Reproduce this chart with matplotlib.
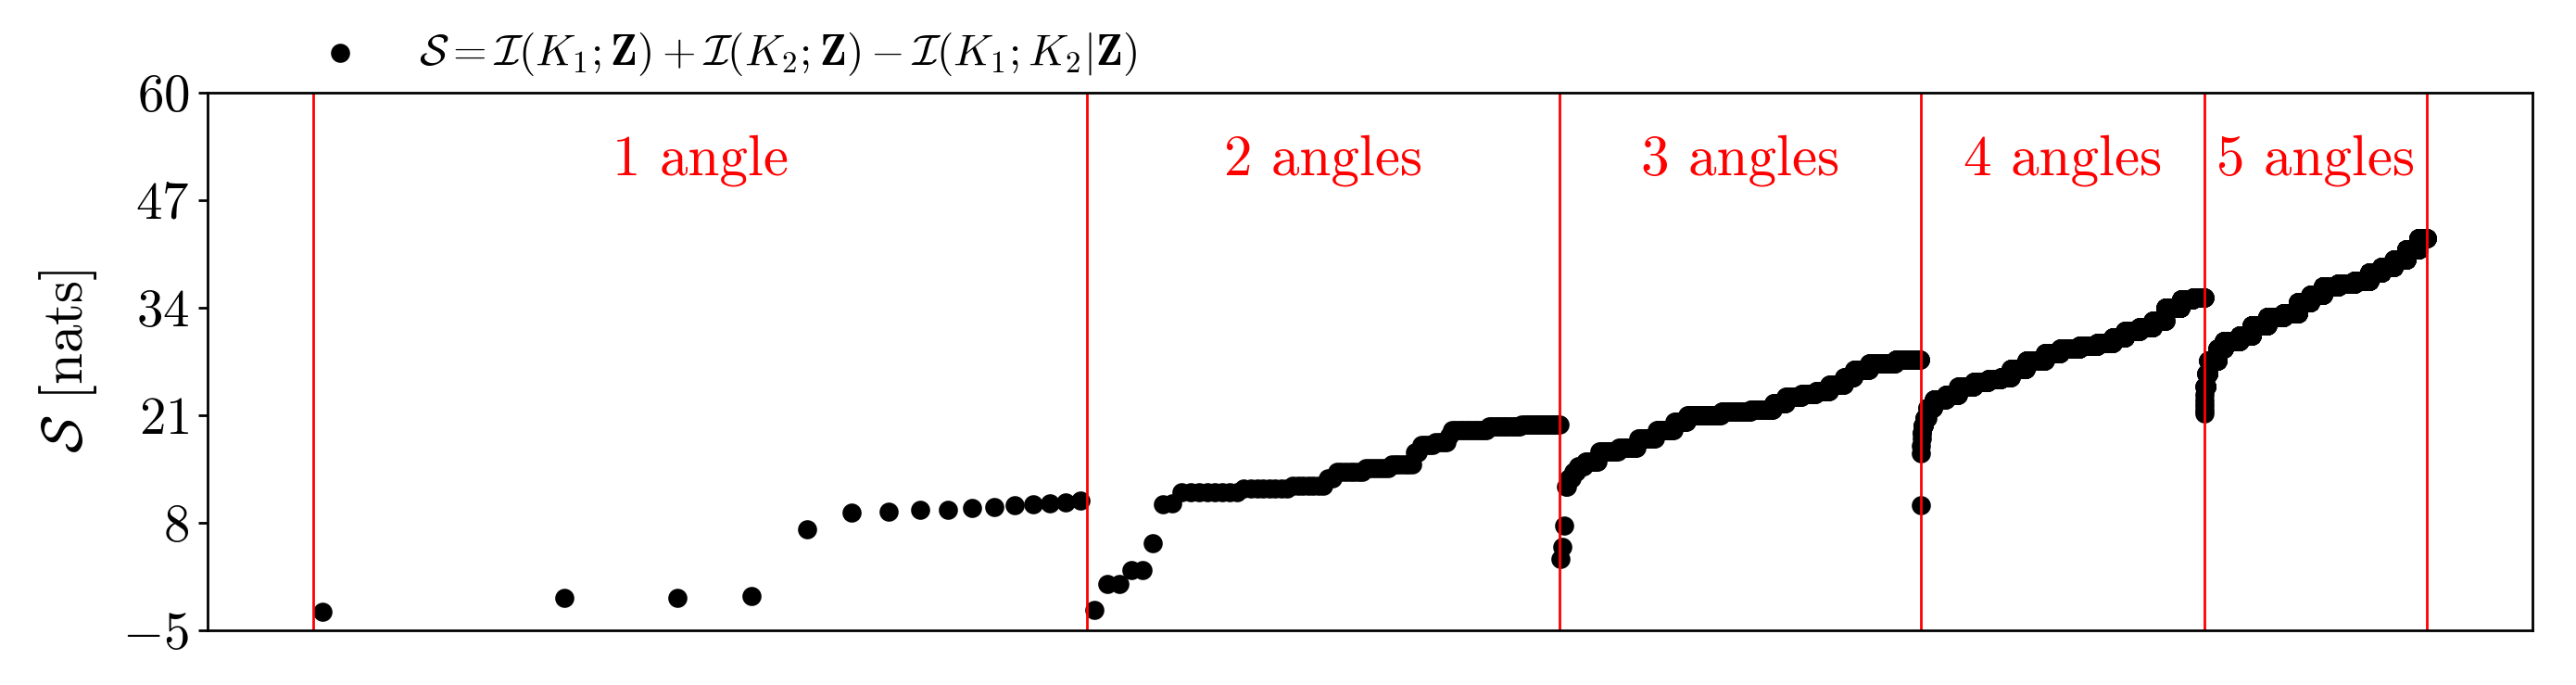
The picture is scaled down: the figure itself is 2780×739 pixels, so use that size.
import numpy as np
import matplotlib.pyplot as plt

plt.rcParams['font.family'] = 'serif'
plt.rcParams['font.serif'] = ['cmr10']
plt.rcParams['mathtext.fontset'] = 'cm'
plt.rcParams['axes.formatter.use_mathtext'] = True

group_names = ['1 angle', '2 angles', '3 angles', '4 angles', '5 angles']

# sorted values of each group as (level, how many points)
g1_levels = [-2.8, -1.1, -1.1, -0.9, 7.2, 9.2, 9.3, 9.5, 9.6, 9.8, 9.9, 10.1, 10.2, 10.3, 10.4, 10.7]
g1_counts = [1] * 16

g2_levels = [-2.6, 0.6, 2.3, 5.5, 10.2, 10.3, 11.7, 12.1, 12.5, 13.4, 14.2, 14.6, 15.0,
             16.5, 17.4, 17.7, 18.5, 19.2, 19.6, 19.9]
g2_counts = [1, 2, 2, 1, 1, 1, 8, 8, 7, 2, 7, 7, 7, 2, 5, 5, 1, 15, 16, 22]

g3_levels = [3.6, 5.1, 7.6, 12.4, 13.4, 14.2, 14.8, 15.4, 16.6, 17.1, 18.2, 19.2, 20.2,
             21.0, 21.4, 21.7, 22.4, 23.2, 23.6, 23.9, 24.7, 25.6, 26.5, 27.3, 27.7]
g3_counts = [1, 1, 1, 2, 3, 3, 5, 10, 15, 16, 17, 18, 14, 40, 40, 35, 21, 28, 27, 27, 32, 22, 37, 70, 75]

g4_levels = [10.1, 16.4, 17.3, 18.2, 18.9, 19.8, 20.6, 21.9, 22.9, 23.4, 24.4, 25.0, 25.3, 25.6,
             26.6, 27.6, 28.5, 29.1, 29.4, 29.7, 30.4, 31.2, 31.6, 32.4, 34.0, 35.0, 35.2]
g4_counts = [1, 1, 1, 1, 2, 6, 10, 20, 42, 45, 60, 60, 56, 46, 76, 99, 88, 120, 120, 112, 95,
             118, 118, 116, 153, 127, 127]

g5_levels = [21.2, 21.6, 22.2, 22.8, 23.4, 24.5, 26.0, 27.6, 29.0, 30.0, 30.6, 31.8, 32.9,
             33.3, 34.6, 35.6, 36.6, 36.9, 37.2, 38.2, 38.9, 39.8, 41.0, 42.4]
g5_counts = [1, 1, 1, 1, 1, 20, 22, 110, 76, 201, 169, 226, 256, 247, 222, 234, 311, 350, 345,
             306, 322, 343, 362, 241]

levels = [g1_levels, g2_levels, g3_levels, g4_levels, g5_levels]
counts = [g1_counts, g2_counts, g3_counts, g4_counts, g5_counts]

y = np.concatenate([np.repeat(l, c) for l, c in zip(levels, counts)])
x = np.arange(len(y)) + 0.5

sizes = [sum(c) for c in counts]
edges = np.concatenate([[0], np.cumsum(sizes)]).astype(float)
edges[0] = 0.48  # 0 can't go on a log axis

fig = plt.figure(figsize=(13.9, 3.695), dpi=200)
ax = fig.add_axes([0.0805, 0.08, 0.9025, 0.785])

ax.scatter(x, y, s=55, color='k', linewidths=0,
           label=r'$\mathcal{S} = \mathcal{I}(K_1;\mathbf{Z}) + \mathcal{I}(K_2;\mathbf{Z}) - \mathcal{I}(K_1;K_2|\mathbf{Z})$')

for e in edges:
    ax.axvline(e, color='r', linewidth=1.0)

trans = ax.get_xaxis_transform()
for i, name in enumerate(group_names):
    xm = np.sqrt(edges[i] * edges[i + 1])
    ax.text(xm, 0.873, name, color='r', fontsize=22, ha='center', va='center', transform=trans)

ax.set_xscale('log')
ax.minorticks_off()
ax.set_xticks([])
ax.set_ylim(-5, 60)
ax.set_yticks(np.linspace(-5, 60, 6))
ax.tick_params(axis='y', labelsize=20.5, length=3.5, width=1.0)
for sp in ax.spines.values():
    sp.set_linewidth(1.0)
ax.set_ylabel(r'$\mathcal{S}$ [nats]', fontsize=22, labelpad=9)

fig.legend(loc='center left', bbox_to_anchor=(0.115, 0.921), frameon=False,
           fontsize=17, borderpad=0, borderaxespad=0, handlelength=2, handletextpad=0.8)

fig.savefig('out.png', dpi=200)
